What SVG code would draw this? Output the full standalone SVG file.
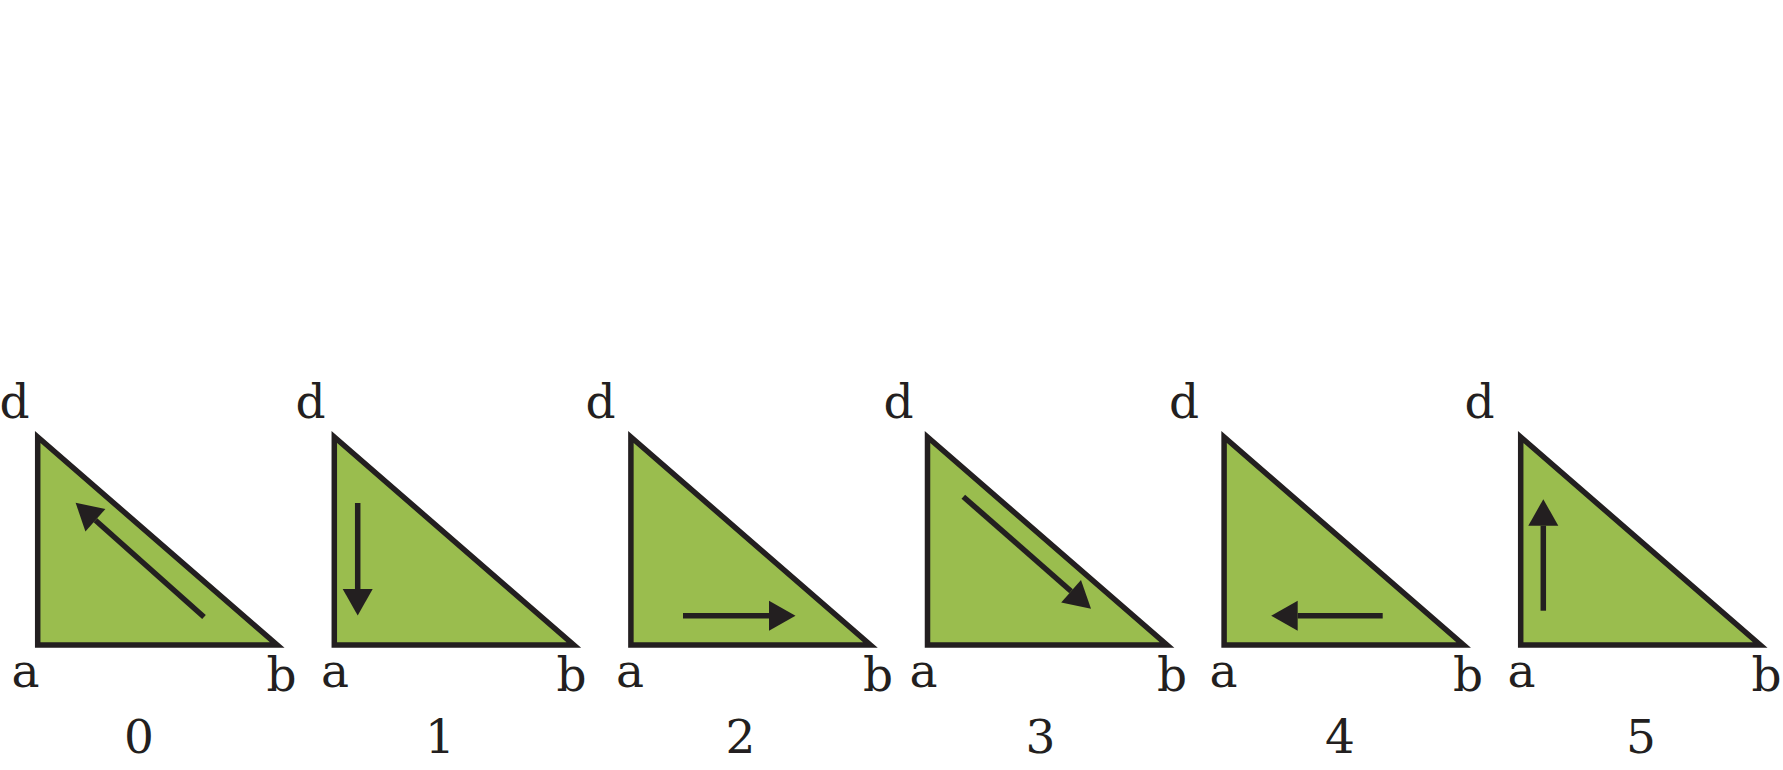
<svg xmlns="http://www.w3.org/2000/svg" width="1783" height="770" viewBox="0 0 1783 770">
<style>
.tri{fill:#9abd4e;stroke:#231f20;stroke-width:5.5;stroke-linejoin:miter}
.lbl{font-family:"DejaVu Serif","Liberation Serif",serif;font-size:47px;fill:#231f20;text-anchor:middle}
.arr{stroke:#231f20;stroke-width:5.5;fill:none;marker-end:url(#ah)}
</style>
<defs>
<marker id="ah" markerUnits="userSpaceOnUse" markerWidth="27" markerHeight="30" refX="0" refY="15" orient="auto" overflow="visible">
<path d="M0,0 L26.5,15 L0,30 Z" fill="#231f20"/>
</marker>
</defs>
<rect width="1783" height="770" fill="#ffffff"/>
<g id="t0">
<path class="tri" d="M37.7,437 L37.7,645 L277.2,645 Z"/>
<text class="lbl" x="14.5" y="418">d</text>
<text class="lbl" x="25.5" y="687">a</text>
<text class="lbl" x="281.5" y="691">b</text>
<text class="lbl" x="139" y="753">0</text>
</g>
<g id="t1">
<path class="tri" d="M334.3,437 L334.3,645 L573.8,645 Z"/>
<text class="lbl" x="310.5" y="418">d</text>
<text class="lbl" x="335" y="687">a</text>
<text class="lbl" x="571.5" y="691">b</text>
<text class="lbl" x="440" y="753">1</text>
</g>
<g id="t2">
<path class="tri" d="M630.9,437 L630.9,645 L870.4,645 Z"/>
<text class="lbl" x="600.5" y="418">d</text>
<text class="lbl" x="630" y="687">a</text>
<text class="lbl" x="878" y="691">b</text>
<text class="lbl" x="740.5" y="753">2</text>
</g>
<g id="t3">
<path class="tri" d="M927.5,437 L927.5,645 L1167,645 Z"/>
<text class="lbl" x="898.5" y="418">d</text>
<text class="lbl" x="923.5" y="687">a</text>
<text class="lbl" x="1172" y="691">b</text>
<text class="lbl" x="1040.5" y="753">3</text>
</g>
<g id="t4">
<path class="tri" d="M1224.1,437 L1224.1,645 L1463.6,645 Z"/>
<text class="lbl" x="1184" y="418">d</text>
<text class="lbl" x="1223.5" y="687">a</text>
<text class="lbl" x="1468" y="691">b</text>
<text class="lbl" x="1340" y="753">4</text>
</g>
<g id="t5">
<path class="tri" d="M1520.7,437 L1520.7,645 L1760.2,645 Z"/>
<text class="lbl" x="1479.5" y="418">d</text>
<text class="lbl" x="1521.5" y="687">a</text>
<text class="lbl" x="1766.5" y="691">b</text>
<text class="lbl" x="1641" y="753">5</text>
</g>
<g id="connectors">
<line class="arr" x1="204" y1="617" x2="95.4" y2="520.3"/>
<line class="arr" x1="357.7" y1="503" x2="357.7" y2="589"/>
<line class="arr" x1="683" y1="615.7" x2="769" y2="615.7"/>
<line class="arr" x1="963.3" y1="496.7" x2="1071.1" y2="591.2"/>
<line class="arr" x1="1382.7" y1="615.7" x2="1297.7" y2="615.7"/>
<line class="arr" x1="1543.3" y1="610.7" x2="1543.3" y2="525.7"/>
</g>
</svg>
